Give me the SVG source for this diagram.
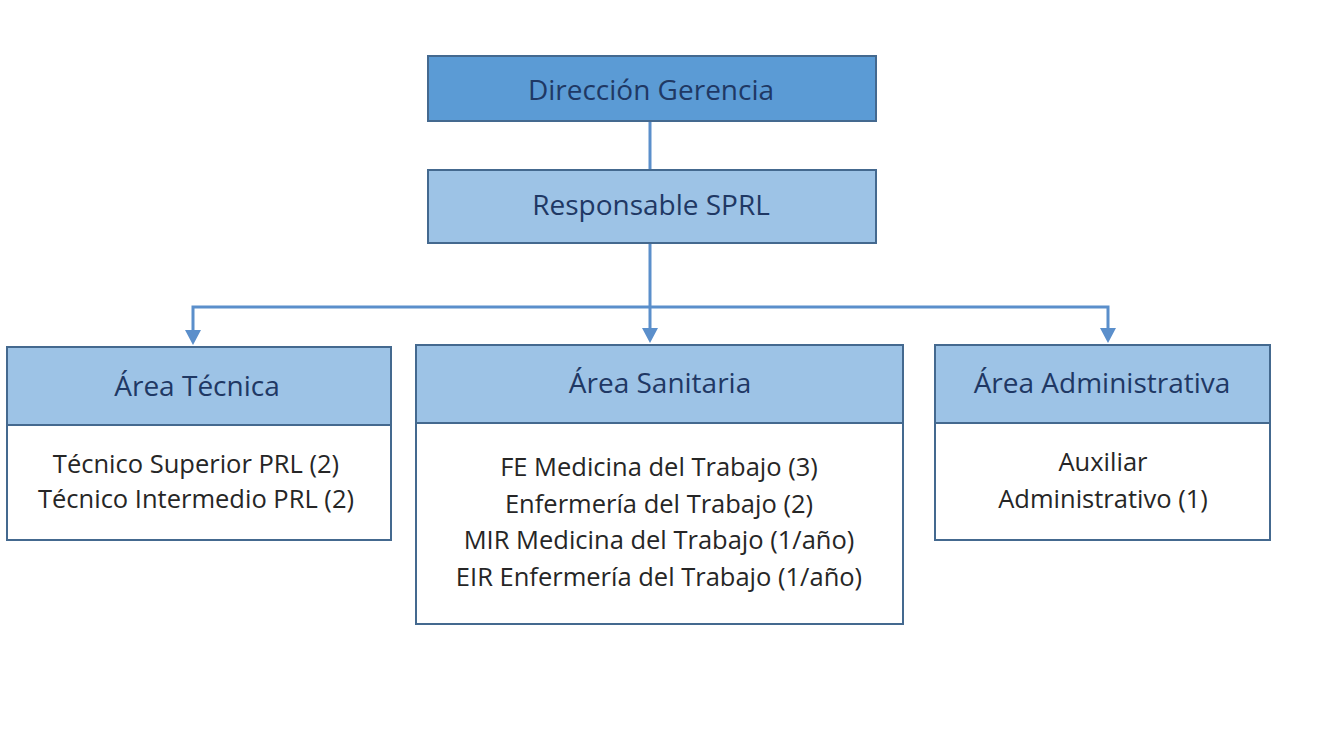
<svg xmlns="http://www.w3.org/2000/svg" width="1326" height="746" viewBox="0 0 1326 746">
<style>
.box{stroke:#44698f;stroke-width:2}
.dark{fill:#5b9bd5}
.light{fill:#9dc3e6}
.white{fill:#ffffff}
.h{font-family:"Open Sans","Liberation Sans",sans-serif;font-size:28px;fill:#1f3864;text-anchor:middle}
.b{font-family:"Open Sans","Liberation Sans",sans-serif;font-size:25.5px;fill:#262626;text-anchor:middle}
.c{fill:none;stroke:#5b8fcb;stroke-width:3}
</style>
<rect width="1326" height="746" fill="#ffffff"/>
<g id="connectors">
<path class="c" d="M650,121 V170"/>
<path class="c" d="M650,243 V333"/>
<path class="c" d="M193,333 V307 H1108 V333"/>
<path d="M185,330 H201 L193,345 Z" fill="#5b8fcb"/>
<path d="M642,328 H658 L650,343 Z" fill="#5b8fcb"/>
<path d="M1100,328 H1116 L1108,343 Z" fill="#5b8fcb"/>
</g>
<g id="direccion">
<rect class="box dark" x="428" y="56" width="448" height="65"/>
<text class="h" x="651" y="100">Dirección Gerencia</text>
</g>
<g id="responsable">
<rect class="box light" x="428" y="170" width="448" height="73"/>
<text class="h" x="651" y="215">Responsable SPRL</text>
</g>
<g id="tecnica">
<rect class="box white" x="7" y="347" width="384" height="193"/>
<rect class="box light" x="7" y="347" width="384" height="78"/>
<text class="h" x="197" y="396">Área Técnica</text>
<text class="b" x="196" y="473">Técnico Superior PRL (2)</text>
<text class="b" x="196" y="508">Técnico Intermedio PRL (2)</text>
</g>
<g id="sanitaria">
<rect class="box white" x="416" y="345" width="487" height="279"/>
<rect class="box light" x="416" y="345" width="487" height="78"/>
<text class="h" x="660" y="393">Área Sanitaria</text>
<text class="b" x="659" y="476">FE Medicina del Trabajo (3)</text>
<text class="b" x="659" y="513">Enfermería del Trabajo (2)</text>
<text class="b" x="659" y="549">MIR Medicina del Trabajo (1/año)</text>
<text class="b" x="659" y="586">EIR Enfermería del Trabajo (1/año)</text>
</g>
<g id="administrativa">
<rect class="box white" x="935" y="345" width="335" height="195"/>
<rect class="box light" x="935" y="345" width="335" height="78"/>
<text class="h" x="1102" y="393">Área Administrativa</text>
<text class="b" x="1103" y="471">Auxiliar</text>
<text class="b" x="1103" y="508">Administrativo (1)</text>
</g>
</svg>
